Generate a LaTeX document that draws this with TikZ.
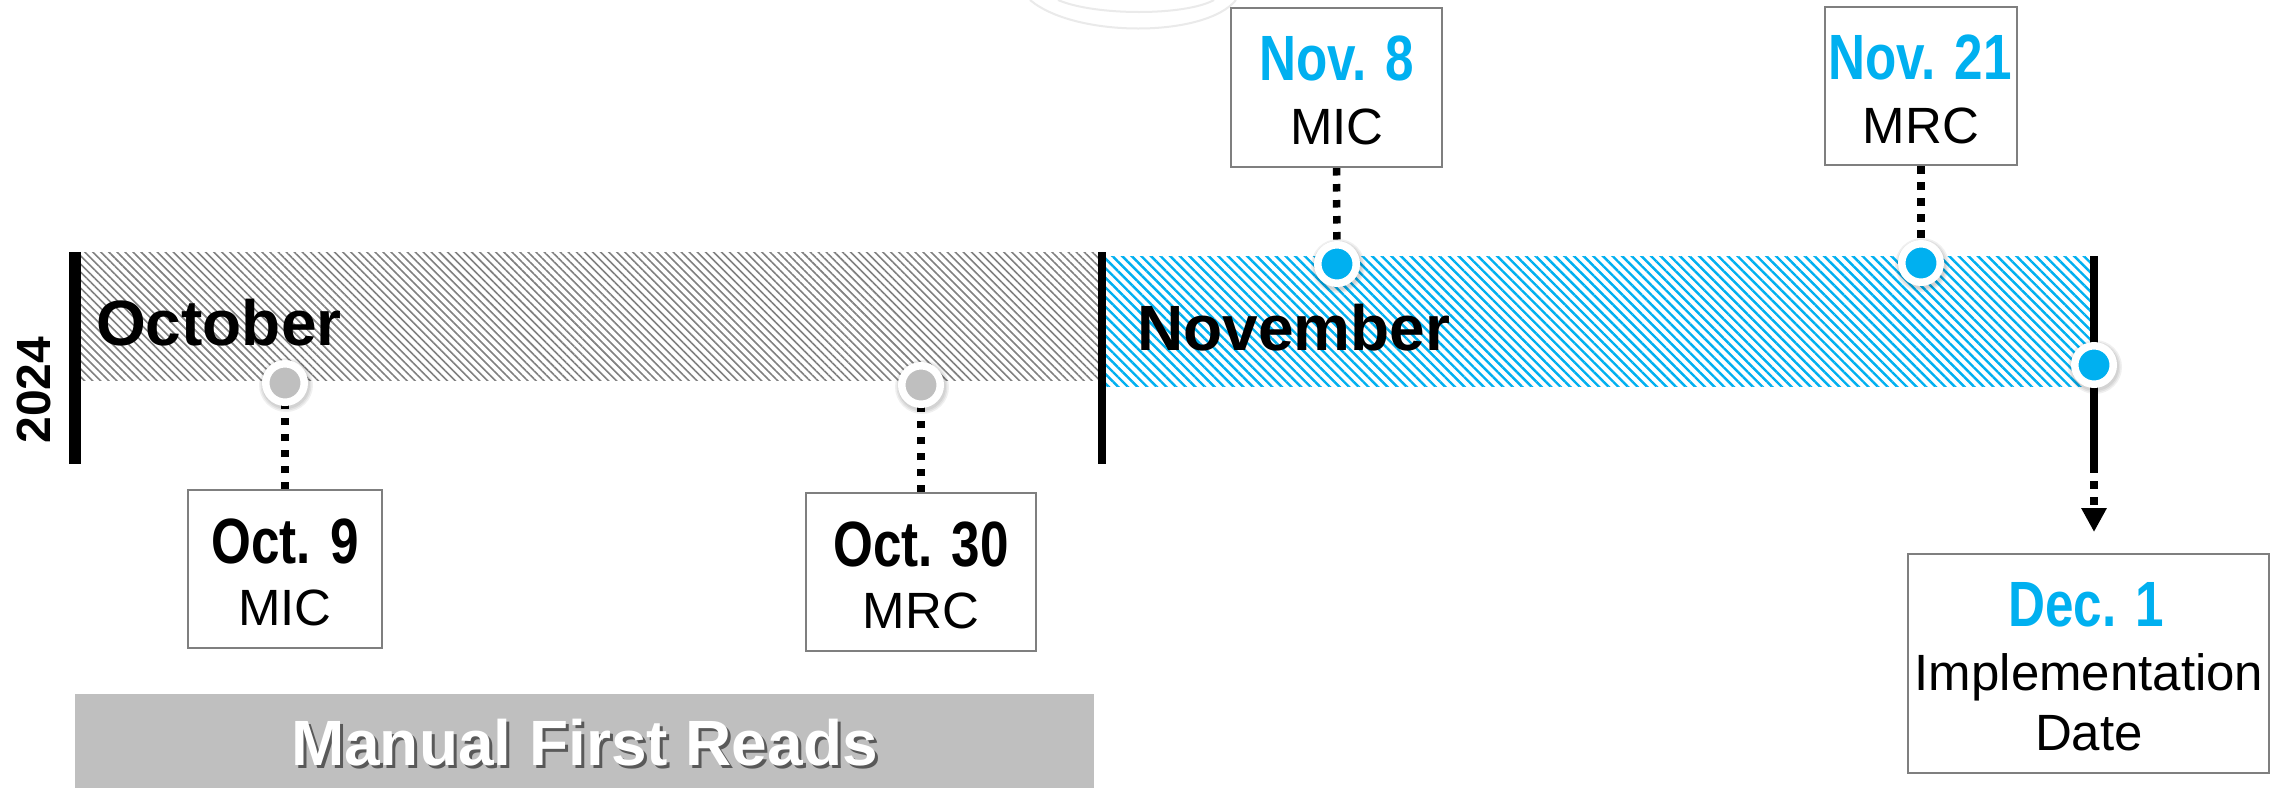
\documentclass[tikz,border=0pt]{standalone}
\usepackage{fontspec}
\setmainfont{Liberation Sans}
\newfontfamily\datefont[FakeStretch=0.8]{Liberation Sans}
\usetikzlibrary{patterns.meta,arrows.meta}
\definecolor{cblue}{HTML}{00B0F0}
\definecolor{cgray}{HTML}{BFBFBF}
\definecolor{hgray}{HTML}{808080}
\definecolor{bgray}{HTML}{7F7F7F}
\definecolor{shgray}{HTML}{595959}
\definecolor{arcgray}{HTML}{EAEAEA}
\pgfdeclarelayer{back}
\pgfdeclarelayer{mid}
\pgfsetlayers{back,mid,main}
\begin{document}
\begin{tikzpicture}[x=1pt,y=-1pt,
  datebox/.style={draw=bgray, line width=2pt, fill=white, inner sep=0pt},
  datetxt/.style={font={\datefont\bfseries\fontsize{64}{70}\selectfont}, inner sep=0pt, anchor=base},
  plaintxt/.style={font={\fontsize{51}{58}\selectfont}, inner sep=0pt, anchor=base},
  monthtxt/.style={font={\bfseries\fontsize{64}{70}\selectfont}, inner sep=0pt, anchor=base west},
  yeartxt/.style={font={\bfseries\fontsize{48}{54}\selectfont}, inner sep=0pt, anchor=base, rotate=90},
  bigtxt/.style={font={\bfseries\fontsize{64}{72}\selectfont}, inner sep=0pt, anchor=base},
  dotline/.style={line width=7.5pt, dash pattern=on 7.5pt off 8.5pt},
  monthbar/.style={line width=#1},
  dotgray/.style={circle, draw=white, line width=7.5pt, fill=cgray, minimum size=38.5pt, inner sep=0pt},
  dotblue/.style={circle, draw=white, line width=7.5pt, fill=cblue, minimum size=38.5pt, inner sep=0pt},
  dotshadow/.style={fill=black, opacity=0.06},
]
\useasboundingbox (0,0) rectangle (2273,788);

% coordinates of bar ends
\coordinate (c-lbtop) at (75,252);
\coordinate (c-lbbot) at (75,464);
\coordinate (c-dvtop) at (1101.5,252);
\coordinate (c-dvbot) at (1101.5,464);
\coordinate (c-bartop) at (2094,256);
\coordinate (c-barend) at (2094,465);

\begin{pgfonlayer}{back}
  \fill[white] (0,0) rectangle (2273,788);
  % faint arcs at top
  \draw[arcgray, line width=2pt] (1030,0) .. controls (1075,38) and (1205,38) .. (1236,0);
  \draw[arcgray, line width=2pt] (1058,0) .. controls (1095,16) and (1185,16) .. (1214,0);
  % hatched month bands
  \path[pattern={Lines[angle=-45,distance=5.7pt,line width=1.6pt]}, pattern color=hgray]
    (81,252) rectangle (1098,380);
  \path[pattern={Lines[angle=-45,distance=6.8pt,line width=2.4pt]}, pattern color=cblue]
    (1105,256) rectangle (2090,386);
  % month bars
  \draw[monthbar=12pt] (c-lbtop) -- (c-lbbot);
  \draw[monthbar=8pt] (c-dvtop) -- (c-dvbot);
  \draw[monthbar=8pt] (c-bartop) -- (c-barend);
\end{pgfonlayer}

% labels
\node[yeartxt] (year) at (50,390) {2024};
\node[monthtxt] (oct) at (96,345) {October};
\node[monthtxt] (nov) at (1137,350) {November};

% boxes
\node[datebox, minimum width=194pt, minimum height=158pt] (b-oct9) at (285,569) {};
\node[datebox, minimum width=230pt, minimum height=158pt] (b-oct30) at (921,572) {};
\node[datebox, minimum width=211pt, minimum height=159pt] (b-nov8) at (1336.5,87.5) {};
\node[datebox, minimum width=192pt, minimum height=158pt] (b-nov21) at (1921,86) {};
\node[datebox, minimum width=361pt, minimum height=219pt] (b-dec1) at (2088.5,663.5) {};

% box texts
\node[datetxt] (t-oct9a) at (285,563) {Oct. 9};
\node[plaintxt] (t-oct9b) at (285,625) {MIC};
\node[datetxt] (t-oct30a) at (921,566) {Oct. 30};
\node[plaintxt] (t-oct30b) at (921,628) {MRC};
\node[datetxt, text=cblue] (t-nov8a) at (1337,80) {Nov. 8};
\node[plaintxt] (t-nov8b) at (1337,144) {MIC};
\node[datetxt, text=cblue] (t-nov21a) at (1920,79) {Nov. 21};
\node[plaintxt] (t-nov21b) at (1921,143) {MRC};
\node[datetxt, text=cblue] (t-dec1a) at (2086,626) {Dec. 1};
\node[plaintxt] (t-dec1b) at (2089,690) {Implementation};
\node[plaintxt] (t-dec1c) at (2089,750) {Date};

% dots
\node[dotgray] (d-oct9) at (285,383) {};
\node[dotgray] (d-oct30) at (921,385) {};
\node[dotblue] (d-nov8) at (1337,264) {};
\node[dotblue] (d-nov21) at (1921,263) {};
\node[dotblue] (d-dec1) at (2094,365) {};

\begin{pgfonlayer}{mid}
  \foreach \d in {d-oct9,d-oct30,d-nov8,d-nov21,d-dec1} {
    \fill[dotshadow] ([shift={(1,2)}]\d.center) circle[radius=24pt];
    \fill[dotshadow] ([shift={(1,2)}]\d.center) circle[radius=25.5pt];
    \fill[dotshadow] ([shift={(1,2)}]\d.center) circle[radius=27pt];
  }
  \draw[dotline] (b-oct9.north) -- (d-oct9.center);
  \draw[dotline] (b-oct30.north) -- (d-oct30.center);
  \draw[dotline] (b-nov8.south) -- (d-nov8.center);
  \draw[dotline] (b-nov21.south) -- (d-nov21.center);
  \draw[dotline, -{Triangle[width=24pt,length=24pt]}, shorten >=21pt]
    (c-barend) -- (c-barend |- b-dec1.north);
\end{pgfonlayer}

% Manual First Reads band
\node[fill=cgray, inner sep=0pt, minimum width=1019pt, minimum height=94pt, anchor=north west] (mfr) at (75,694) {};
\node[bigtxt, text=shgray] (mfr-shadow) at (587.5,768) {Manual First Reads};
\node[bigtxt, text=white] (mfr-text) at (584.5,765) {Manual First Reads};
\end{tikzpicture}
\end{document}
